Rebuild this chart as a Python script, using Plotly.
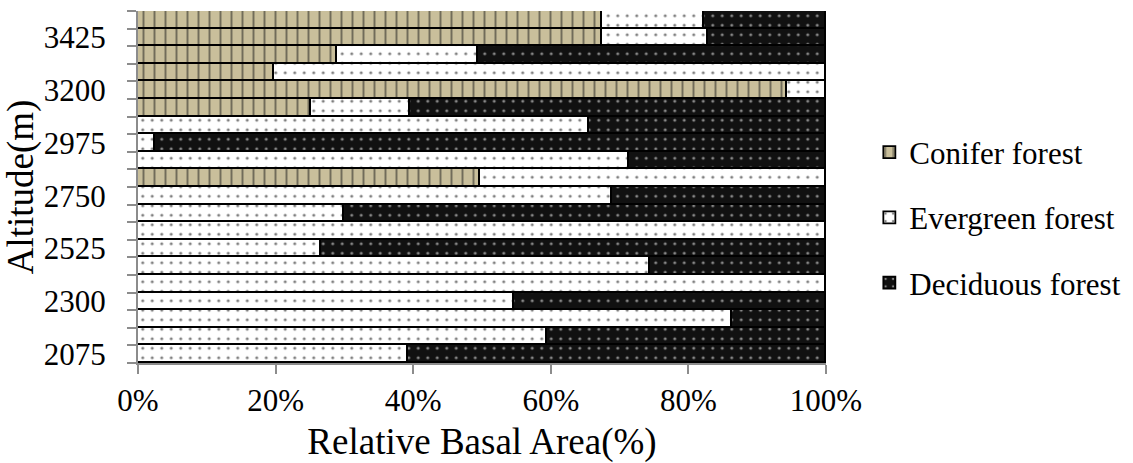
import plotly.graph_objects as go

# Altitude classes (m), bottom to top
altitude = [2075, 2150, 2225, 2300, 2375, 2450, 2525, 2600, 2675, 2750,
            2825, 2900, 2975, 3050, 3125, 3200, 3275, 3350, 3425, 3500]

# Relative basal area (%) per forest type
conifer = [None, None, None, None, None, None, None, None, None, None,
           49.7, None, None, None, 25.1, 94.4, 19.8, 28.9, 67.4, 67.5]
evergreen = [39.3, 59.4, 86.3, 54.7, 100, 74.4, 26.6, 100, 29.9, 68.9,
             50.3, 71.4, 2.5, 65.6, 14.5, 5.6, 80.2, 20.5, 15.4, 14.8]
deciduous = [60.7, 40.6, 13.7, 45.3, None, 25.6, 73.4, None, 70.1, 31.1,
             None, 28.6, 97.5, 34.4, 60.4, None, None, 50.6, 17.2, 17.7]

altitude_ticks = [2075, 2300, 2525, 2750, 2975, 3200, 3425]
pct_ticks = [0, 20, 40, 60, 80, 100]
pct_labels = ["0%", "20%", "40%", "60%", "80%", "100%"]

FONT = "Liberation Serif"
AXIS_GREY = "#8c8c8c"

series = [
    ("Conifer forest", conifer,
     dict(shape="|", bgcolor="#C9BF9B", fgcolor="#1a1a1a", size=11, solidity=0.18)),
    ("Evergreen forest", evergreen,
     dict(shape=".", bgcolor="#FFFFFF", fgcolor="#000000", size=9.5, solidity=0.08)),
    ("Deciduous forest", deciduous,
     dict(shape=".", bgcolor="#111111", fgcolor="#FFFFFF", size=9.5, solidity=0.08)),
]

fig = go.Figure()
for name, vals, pat in series:
    fig.add_trace(go.Bar(
        y=altitude, x=vals, name=name, orientation="h",
        legendgroup=name,
        marker=dict(color=pat["bgcolor"], pattern=pat,
                    line=dict(color="black", width=1.8)),
    ))

fig.update_layout(
    barmode="stack", bargap=0,
    width=1133, height=463,
    margin=dict(l=138, r=307, t=11, b=100, autoexpand=False),
    paper_bgcolor="white", plot_bgcolor="white",
    font=dict(family=FONT, size=31, color="black"),
    legend=dict(x=1.063, xanchor="left", y=0.675, yanchor="top",
                traceorder="grouped", tracegroupgap=22,
                font=dict(family=FONT, size=31, color="black")),
)

fig.update_xaxes(
    range=[0, 100], tickvals=pct_ticks, ticktext=pct_labels,
    showgrid=False, zeroline=False,
    showline=True, linecolor=AXIS_GREY, linewidth=2,
    ticks="outside", ticklen=9, tickwidth=2, tickcolor=AXIS_GREY,
    title=dict(text="Relative Basal Area(%)", standoff=12),
)

fig.update_yaxes(
    range=[2037.5, 3537.5], tickvals=altitude_ticks,
    showgrid=False, zeroline=False,
    showline=True, linecolor=AXIS_GREY, linewidth=2,
    ticks="outside", ticklen=24, tickcolor="rgba(0,0,0,0)",
    minor=dict(tick0=2037.5, dtick=75, ticks="outside", ticklen=9,
               tickwidth=2, tickcolor=AXIS_GREY, showgrid=False),
    title=dict(text="Altitude(m)", standoff=4),
)

fig.write_html("out.html")
